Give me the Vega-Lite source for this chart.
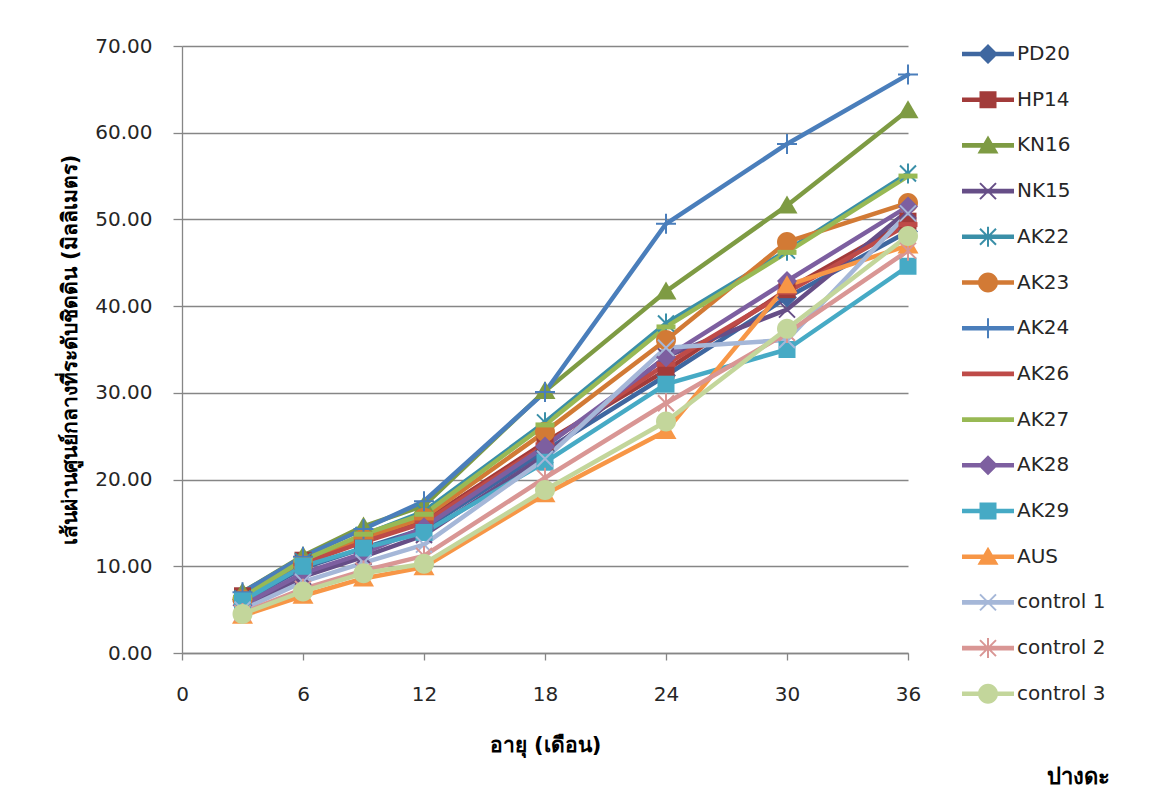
{
"$schema": "https://vega.github.io/schema/vega-lite/v6.json",
"width": 726, "height": 607,
"autosize": "none",
"padding": {"left": 182, "top": 46, "right": 242, "bottom": 144},
"background": "white",
"config": {"view": {"stroke": null}, "font": "DejaVu Sans"},
"title": {"text": "ปางดะ", "orient": "bottom", "anchor": "end", "frame": "group", "fontSize": 22, "fontWeight": "bold", "color": "#000000", "offset": 12, "dx": 202},
"data": {"values": [
{"series":"PD20","age":3,"d":5.9},{"series":"PD20","age":6,"d":9.8},{"series":"PD20","age":9,"d":12.1},{"series":"PD20","age":12,"d":14.3},{"series":"PD20","age":18,"d":23.3},{"series":"PD20","age":24,"d":32.0},{"series":"PD20","age":30,"d":41.0},{"series":"PD20","age":36,"d":48.6},
{"series":"HP14","age":3,"d":6.6},{"series":"HP14","age":6,"d":10.7},{"series":"HP14","age":9,"d":13.0},{"series":"HP14","age":12,"d":15.2},{"series":"HP14","age":18,"d":24.3},{"series":"HP14","age":24,"d":32.6},{"series":"HP14","age":30,"d":41.9},{"series":"HP14","age":36,"d":49.8},
{"series":"KN16","age":3,"d":7.0},{"series":"KN16","age":6,"d":11.2},{"series":"KN16","age":9,"d":14.6},{"series":"KN16","age":12,"d":17.0},{"series":"KN16","age":18,"d":30.2},{"series":"KN16","age":24,"d":41.7},{"series":"KN16","age":30,"d":51.6},{"series":"KN16","age":36,"d":62.6},
{"series":"NK15","age":3,"d":5.2},{"series":"NK15","age":6,"d":8.8},{"series":"NK15","age":9,"d":11.1},{"series":"NK15","age":12,"d":13.6},{"series":"NK15","age":18,"d":22.8},{"series":"NK15","age":24,"d":34.2},{"series":"NK15","age":30,"d":39.6},{"series":"NK15","age":36,"d":51.0},
{"series":"AK22","age":3,"d":6.3},{"series":"AK22","age":6,"d":10.6},{"series":"AK22","age":9,"d":13.6},{"series":"AK22","age":12,"d":16.3},{"series":"AK22","age":18,"d":26.6},{"series":"AK22","age":24,"d":38.0},{"series":"AK22","age":30,"d":46.4},{"series":"AK22","age":36,"d":55.3},
{"series":"AK23","age":3,"d":6.2},{"series":"AK23","age":6,"d":10.2},{"series":"AK23","age":9,"d":13.2},{"series":"AK23","age":12,"d":15.6},{"series":"AK23","age":18,"d":25.5},{"series":"AK23","age":24,"d":36.1},{"series":"AK23","age":30,"d":47.4},{"series":"AK23","age":36,"d":51.9},
{"series":"AK24","age":3,"d":7.0},{"series":"AK24","age":6,"d":11.1},{"series":"AK24","age":9,"d":14.3},{"series":"AK24","age":12,"d":17.5},{"series":"AK24","age":18,"d":30.1},{"series":"AK24","age":24,"d":49.5},{"series":"AK24","age":30,"d":58.7},{"series":"AK24","age":36,"d":66.7},
{"series":"AK26","age":3,"d":6.4},{"series":"AK26","age":6,"d":10.3},{"series":"AK26","age":9,"d":12.8},{"series":"AK26","age":12,"d":15.0},{"series":"AK26","age":18,"d":24.0},{"series":"AK26","age":24,"d":33.3},{"series":"AK26","age":30,"d":41.6},{"series":"AK26","age":36,"d":49.4},
{"series":"AK27","age":3,"d":6.4},{"series":"AK27","age":6,"d":10.7},{"series":"AK27","age":9,"d":13.7},{"series":"AK27","age":12,"d":16.0},{"series":"AK27","age":18,"d":26.3},{"series":"AK27","age":24,"d":37.6},{"series":"AK27","age":30,"d":46.2},{"series":"AK27","age":36,"d":55.0},
{"series":"AK28","age":3,"d":5.5},{"series":"AK28","age":6,"d":9.2},{"series":"AK28","age":9,"d":11.5},{"series":"AK28","age":12,"d":14.5},{"series":"AK28","age":18,"d":23.8},{"series":"AK28","age":24,"d":34.1},{"series":"AK28","age":30,"d":42.9},{"series":"AK28","age":36,"d":51.5},
{"series":"AK29","age":3,"d":6.0},{"series":"AK29","age":6,"d":10.0},{"series":"AK29","age":9,"d":12.1},{"series":"AK29","age":12,"d":13.9},{"series":"AK29","age":18,"d":22.0},{"series":"AK29","age":24,"d":31.0},{"series":"AK29","age":30,"d":35.0},{"series":"AK29","age":36,"d":44.6},
{"series":"AUS","age":3,"d":4.3},{"series":"AUS","age":6,"d":6.6},{"series":"AUS","age":9,"d":8.6},{"series":"AUS","age":12,"d":9.9},{"series":"AUS","age":18,"d":18.3},{"series":"AUS","age":24,"d":25.6},{"series":"AUS","age":30,"d":42.4},{"series":"AUS","age":36,"d":47.0},
{"series":"control 1","age":3,"d":5.0},{"series":"control 1","age":6,"d":8.2},{"series":"control 1","age":9,"d":10.4},{"series":"control 1","age":12,"d":12.5},{"series":"control 1","age":18,"d":22.4},{"series":"control 1","age":24,"d":35.2},{"series":"control 1","age":30,"d":36.1},{"series":"control 1","age":36,"d":50.7},
{"series":"control 2","age":3,"d":4.6},{"series":"control 2","age":6,"d":7.4},{"series":"control 2","age":9,"d":9.5},{"series":"control 2","age":12,"d":11.2},{"series":"control 2","age":18,"d":20.2},{"series":"control 2","age":24,"d":28.8},{"series":"control 2","age":30,"d":36.9},{"series":"control 2","age":36,"d":46.4},
{"series":"control 3","age":3,"d":4.5},{"series":"control 3","age":6,"d":7.1},{"series":"control 3","age":9,"d":9.2},{"series":"control 3","age":12,"d":10.3},{"series":"control 3","age":18,"d":18.8},{"series":"control 3","age":24,"d":26.7},{"series":"control 3","age":30,"d":37.4},{"series":"control 3","age":36,"d":48.1}
]},
"encoding": {
  "x": {"field": "age", "type": "quantitative", "scale": {"domain": [0, 36], "nice": false, "zero": false},
    "axis": {"title": "อายุ (เดือน)", "values": [0, 6, 12, 18, 24, 30, 36], "labelFlush": false, "grid": false, "domainColor": "#868686", "domainWidth": 1.3, "tickColor": "#868686", "tickWidth": 1.3, "tickSize": 7, "labelFontSize": 20, "labelColor": "#262626", "labelPadding": 24, "titleFontSize": 21, "titleFontWeight": "bold", "titleColor": "#000000", "titlePadding": 30}},
  "y": {"field": "d", "type": "quantitative", "scale": {"domain": [0, 70], "nice": false},
    "axis": {"title": "เส้นผ่านศูนย์กลางที่ระดับชิดดิน (มิลลิเมตร)", "format": ".2f", "values": [0, 10, 20, 30, 40, 50, 60, 70], "grid": true, "gridColor": "#868686", "gridWidth": 1.3, "domainColor": "#868686", "domainWidth": 1.3, "tickColor": "#868686", "tickWidth": 1.3, "tickSize": 9, "labelFontSize": 20, "labelColor": "#262626", "labelPadding": 21, "titleFontSize": 21, "titleFontWeight": "bold", "titleColor": "#000000", "titlePadding": 14}}
},
"resolve": {"scale": {"color": "independent", "shape": "independent"}},
"layer": [
  {"mark": {"type": "line", "strokeWidth": 4.5, "strokeCap": "round", "strokeJoin": "round"},
   "encoding": {"color": {"field": "series", "type": "nominal", "legend": null,
     "scale": {"domain": ["PD20","HP14","KN16","NK15","AK22","AK23","AK24","AK26","AK27","AK28","AK29","AUS","control 1","control 2","control 3"],
               "range": ["#3F67A0","#A23B3A","#7E9B43","#664E87","#3A8FA8","#D27A35","#4A7EBB","#BE4B48","#98B954","#7D5FA0","#46AAC5","#F79646","#A5B7D8","#D99694","#C3D69B"]}}}},
  {"mark": {"type": "point", "filled": true, "size": 400, "opacity": 1, "strokeWidth": 0},
   "encoding": {
     "color": {"field": "series", "type": "nominal", "legend": null,
       "scale": {"domain": ["PD20","HP14","KN16","NK15","AK22","AK23","AK24","AK26","AK27","AK28","AK29","AUS","control 1","control 2","control 3"],
                 "range": ["#3F67A0","#A23B3A","#7E9B43","#664E87","#3A8FA8","#D27A35","#4A7EBB","#BE4B48","#98B954","#7D5FA0","#46AAC5","#F79646","#A5B7D8","#D99694","#C3D69B"]}},
     "shape": {"field": "series", "type": "nominal", "legend": null,
       "scale": {"domain": ["PD20","HP14","KN16","NK15","AK22","AK23","AK24","AK26","AK27","AK28","AK29","AUS","control 1","control 2","control 3"],
         "range": [
           "M0,-1L1,0L0,1L-1,0Z",
           "M-0.85,-0.85L0.85,-0.85L0.85,0.85L-0.85,0.85Z",
           "M0,-1L1.05,0.8L-1.05,0.8Z",
           "M-0.73,-0.87L0.87,0.73L0.73,0.87L-0.87,-0.73Z M0.73,-0.87L0.87,-0.73L-0.73,0.87L-0.87,0.73Z",
           "M-0.73,-0.87L0.87,0.73L0.73,0.87L-0.87,-0.73Z M0.73,-0.87L0.87,-0.73L-0.73,0.87L-0.87,0.73Z M-0.1,-1L0.1,-1L0.1,1L-0.1,1Z",
           "M-1,0A1,1,0,1,1,1,0A1,1,0,1,1,-1,0Z",
           "M-1,-0.1L1,-0.1L1,0.1L-1,0.1Z M-0.1,-1L0.1,-1L0.1,1L-0.1,1Z",
           "M-0.95,-0.25L0.95,-0.25L0.95,0.25L-0.95,0.25Z",
           "M-0.95,-0.25L0.95,-0.25L0.95,0.25L-0.95,0.25Z",
           "M0,-1L1,0L0,1L-1,0Z",
           "M-0.85,-0.85L0.85,-0.85L0.85,0.85L-0.85,0.85Z",
           "M0,-1L1.05,0.8L-1.05,0.8Z",
           "M-0.73,-0.87L0.87,0.73L0.73,0.87L-0.87,-0.73Z M0.73,-0.87L0.87,-0.73L-0.73,0.87L-0.87,0.73Z",
           "M-0.73,-0.87L0.87,0.73L0.73,0.87L-0.87,-0.73Z M0.73,-0.87L0.87,-0.73L-0.73,0.87L-0.87,0.73Z M-0.1,-1L0.1,-1L0.1,1L-0.1,1Z",
           "M-1,0A1,1,0,1,1,1,0A1,1,0,1,1,-1,0Z"]}}}},
  {"transform": [{"filter": "datum.age > 100"}],
   "mark": {"type": "point", "filled": true, "opacity": 1, "strokeWidth": 0},
   "encoding": {
     "color": {"field": "series", "type": "nominal",
       "scale": {"domain": ["PD20","HP14","KN16","NK15","AK22","AK23","AK24","AK26","AK27","AK28","AK29","AUS","control 1","control 2","control 3"],
                 "range": ["#3F67A0","#A23B3A","#7E9B43","#664E87","#3A8FA8","#D27A35","#4A7EBB","#BE4B48","#98B954","#7D5FA0","#46AAC5","#F79646","#A5B7D8","#D99694","#C3D69B"]},
       "legend": {"orient": "none", "legendX": 770, "legendY": -2, "title": null, "padding": 0, "labelFontSize": 20, "labelColor": "#262626", "labelLimit": 0, "symbolSize": 400, "symbolOffset": 26, "labelOffset": 19, "rowPadding": 25.7, "gridAlign": "all", "symbolStrokeWidth": 0, "symbolOpacity": 1}},
     "shape": {"field": "series", "type": "nominal",
       "scale": {"domain": ["PD20","HP14","KN16","NK15","AK22","AK23","AK24","AK26","AK27","AK28","AK29","AUS","control 1","control 2","control 3"],
         "range": [
           "M-2.6,-0.23L2.6,-0.23L2.6,0.23L-2.6,0.23Z M0,-1L1,0L0,1L-1,0Z",
           "M-2.6,-0.23L2.6,-0.23L2.6,0.23L-2.6,0.23Z M-0.85,-0.85L0.85,-0.85L0.85,0.85L-0.85,0.85Z",
           "M-2.6,-0.23L2.6,-0.23L2.6,0.23L-2.6,0.23Z M0,-1L1.05,0.8L-1.05,0.8Z",
           "M-2.6,-0.23L2.6,-0.23L2.6,0.23L-2.6,0.23Z M-0.73,-0.87L0.87,0.73L0.73,0.87L-0.87,-0.73Z M0.73,-0.87L0.87,-0.73L-0.73,0.87L-0.87,0.73Z",
           "M-2.6,-0.23L2.6,-0.23L2.6,0.23L-2.6,0.23Z M-0.73,-0.87L0.87,0.73L0.73,0.87L-0.87,-0.73Z M0.73,-0.87L0.87,-0.73L-0.73,0.87L-0.87,0.73Z M-0.1,-1L0.1,-1L0.1,1L-0.1,1Z",
           "M-2.6,-0.23L2.6,-0.23L2.6,0.23L-2.6,0.23Z M-1,0A1,1,0,1,1,1,0A1,1,0,1,1,-1,0Z",
           "M-2.6,-0.23L2.6,-0.23L2.6,0.23L-2.6,0.23Z M-0.1,-1L0.1,-1L0.1,1L-0.1,1Z",
           "M-2.6,-0.23L2.6,-0.23L2.6,0.23L-2.6,0.23Z",
           "M-2.6,-0.23L2.6,-0.23L2.6,0.23L-2.6,0.23Z",
           "M-2.6,-0.23L2.6,-0.23L2.6,0.23L-2.6,0.23Z M0,-1L1,0L0,1L-1,0Z",
           "M-2.6,-0.23L2.6,-0.23L2.6,0.23L-2.6,0.23Z M-0.85,-0.85L0.85,-0.85L0.85,0.85L-0.85,0.85Z",
           "M-2.6,-0.23L2.6,-0.23L2.6,0.23L-2.6,0.23Z M0,-1L1.05,0.8L-1.05,0.8Z",
           "M-2.6,-0.23L2.6,-0.23L2.6,0.23L-2.6,0.23Z M-0.73,-0.87L0.87,0.73L0.73,0.87L-0.87,-0.73Z M0.73,-0.87L0.87,-0.73L-0.73,0.87L-0.87,0.73Z",
           "M-2.6,-0.23L2.6,-0.23L2.6,0.23L-2.6,0.23Z M-0.73,-0.87L0.87,0.73L0.73,0.87L-0.87,-0.73Z M0.73,-0.87L0.87,-0.73L-0.73,0.87L-0.87,0.73Z M-0.1,-1L0.1,-1L0.1,1L-0.1,1Z",
           "M-2.6,-0.23L2.6,-0.23L2.6,0.23L-2.6,0.23Z M-1,0A1,1,0,1,1,1,0A1,1,0,1,1,-1,0Z"]},
       "legend": {"orient": "none", "legendX": 770, "legendY": -2, "title": null, "padding": 0, "labelFontSize": 20, "labelColor": "#262626", "labelLimit": 0, "symbolSize": 400, "symbolOffset": 26, "labelOffset": 19, "rowPadding": 25.7, "gridAlign": "all", "symbolStrokeWidth": 0, "symbolOpacity": 1}}}}
]
}
